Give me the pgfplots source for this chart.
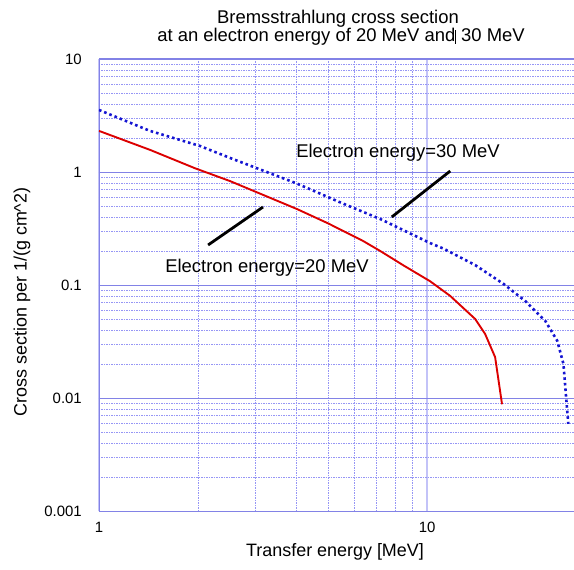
\documentclass[border=0pt]{standalone}
\usepackage{pgfplots}
\pgfplotsset{compat=1.18}
\usepackage{fontspec}
\setmainfont{Liberation Sans}

\definecolor{gridmaj}{RGB}{130,130,230}
\definecolor{gridx}{RGB}{195,195,248}
\definecolor{gridmin}{RGB}{150,150,245}
\definecolor{redline}{RGB}{220,0,0}
\definecolor{blueline}{RGB}{20,20,210}

\begin{document}
\begin{tikzpicture}[x=1bp,y=1bp]
\begin{loglogaxis}[
    at={(0,0)}, anchor=south west,
    scale only axis,
    width=475bp, height=452bp,
    xmin=1, xmax=28,
    ymin=0.001, ymax=10,
    xtick={1,10}, xticklabels={1,10},
    ytick={0.001,0.01,0.1,1,10},
    yticklabels={0.001,0.01,0.1,1,10},
    grid=both,
    major x grid style={color=gridx, line width=1.6pt},
    major y grid style={color=gridmaj, line width=0.8pt},
    minor grid style={color=gridmin, line width=0.6pt, dash pattern=on 1.5pt off 1pt},
    axis line style={color=gridmaj, line width=1pt},
    major tick length=0pt, minor tick length=0pt,
    tick label style={font=\fontsize{15}{15}\selectfont},
    /pgf/number format/assume math mode=true,
    yticklabel style={inner sep=0pt, xshift=-17bp},
    xticklabel style={inner sep=0pt, yshift=-11bp},
]
% 30 MeV electrons
\addplot[blueline, line width=2.6pt, dash pattern=on 2.6pt off 3pt] coordinates {
    (1,3.54) (1.43,2.31) (2.03,1.70) (2.51,1.33) (4.01,0.79) (5.5,0.53)
    (7.19,0.384) (10.2,0.235) (11.2,0.21) (14,0.15) (17.1,0.102) (19.9,0.072)
    (22.9,0.048) (24.9,0.032) (26.0,0.020) (26.4,0.0115) (26.9,0.0059)
};
% 20 MeV electrons
\addplot[redline, line width=1.9pt] coordinates {
    (1,2.31) (1.43,1.57) (1.96,1.08) (2.51,0.83) (4.01,0.47) (5.0,0.35)
    (6.38,0.245) (7.19,0.20) (8.5,0.148) (10.2,0.108) (11.75,0.080)
    (14.0,0.050) (15.0,0.037) (16.1,0.023) (16.9,0.0088)
};
\draw[black, line width=2.8pt] (axis cs:2.15,0.226) -- (axis cs:3.16,0.49);
\draw[black, line width=2.8pt] (axis cs:7.8,0.40) -- (axis cs:11.75,1.02);
\end{loglogaxis}
\node[font=\fontsize{18.5}{18.5}\selectfont] at (299,358) {Electron energy=30 MeV};
\node[font=\fontsize{18.5}{18.5}\selectfont] at (168,243) {Electron energy=20 MeV};
\node[font=\fontsize{18.5}{18.5}\selectfont] at (239,492) {Bremsstrahlung cross section};
\node[font=\fontsize{18.5}{18.5}\selectfont] at (242,474) {at an electron energy of 20 MeV and\rule[-2bp]{0.6bp}{14bp} 30 MeV};
\node[font=\fontsize{18}{18}\selectfont] at (236,-41) {Transfer energy [MeV]};
\node[font=\fontsize{18}{18}\selectfont, rotate=90] at (-77,209) {Cross section per 1/(g cm\textasciicircum 2)};
\pgfresetboundingbox
\path (-99,-59) rectangle (475,511);
\end{tikzpicture}
\end{document}
